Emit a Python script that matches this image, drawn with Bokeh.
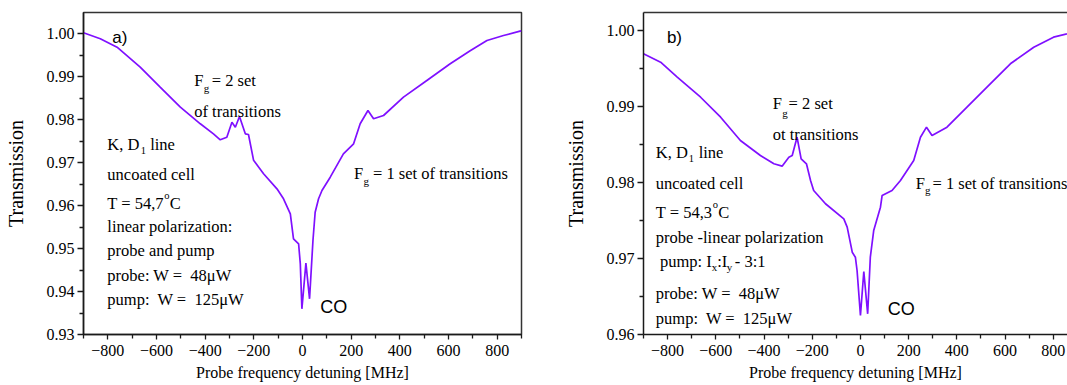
from bokeh.plotting import figure
from bokeh.layouts import row
from bokeh.models import Label, FixedTicker, PrintfTickFormatter, LinearAxis, Range1d
from bokeh.embed import file_html
from bokeh.resources import INLINE

# ---------------- data ----------------
left_f = [-900, -831, -762, -667, -585, -502, -420, -366, -338, -311, -290, -276, -259,
          -235, -222, -201, -160, -105, -78, -50, -37, -16, -9, -2.5, 14, 29, 43, 52, 66,
          80, 114, 168, 210, 237, 269, 292, 333, 415, 511, 607, 689, 758, 826, 894, 900]
left_T = [1.00016, 0.99877, 0.99681, 0.99216, 0.98751, 0.98286, 0.97900, 0.97667, 0.97528,
          0.97589, 0.97937, 0.97821, 0.98070, 0.97667, 0.97651, 0.97050, 0.96737, 0.96388,
          0.96156, 0.95807, 0.95226, 0.95109, 0.94643, 0.93597, 0.94659, 0.93830, 0.95186,
          0.95844, 0.96156, 0.96349, 0.96658, 0.97202, 0.97435, 0.97900, 0.98209, 0.98016,
          0.98093, 0.98519, 0.98907, 0.99295, 0.99600, 0.99837, 0.99953, 1.00054, 1.00060]

right_f = [-900, -829, -760, -663, -580, -498, -415, -359, -325, -297, -283, -263, -246,
           -224, -207, -194, -145, -69, -55, -34, -21, -14, 0, 14, 30, 41, 55, 83, 90, 131,
           166, 221, 249, 274, 297, 359, 442, 525, 622, 719, 801, 857, 900]
right_T = [0.99693, 0.99583, 0.99386, 0.99122, 0.98859, 0.98553, 0.98355, 0.98246, 0.98215,
           0.98333, 0.98355, 0.98596, 0.98312, 0.98246, 0.98026, 0.97895, 0.97720, 0.97522,
           0.97412, 0.97083, 0.97017, 0.96842, 0.96250, 0.96829, 0.96272, 0.97017, 0.97368,
           0.97675, 0.97829, 0.97895, 0.98026, 0.98289, 0.98596, 0.98728, 0.98618, 0.98728,
           0.98991, 0.99254, 0.99562, 0.99780, 0.99912, 0.99957, 1.00000]

x_ticks = [-800, -600, -400, -200, 0, 200, 400, 600, 800]
x_minor = [-900, -700, -500, -300, -100, 100, 300, 500, 700, 900]
left_y_ticks = [0.93, 0.94, 0.95, 0.96, 0.97, 0.98, 0.99, 1.00]
left_y_minor = [0.935, 0.945, 0.955, 0.965, 0.975, 0.985, 0.995]
right_y_ticks = [0.96, 0.97, 0.98, 0.99, 1.00]
right_y_minor = [0.965, 0.975, 0.985, 0.995]

x_label = "Probe frequency detuning [MHz]"
y_label = "Transmission"

SERIF = '"Liberation Serif"'
SANS = '"Liberation Sans"'
LINE = "#7f10ff"
AX = "#1a1a1a"
FS = "16.5px"


def make_fig(width, x_end, y0, y1, yticks, yminor, b_left, b_right, outline):
    p = figure(width=width, height=385, x_range=Range1d(-900, x_end),
               y_range=Range1d(y0, y1), output_backend="svg", toolbar_location=None,
               min_border_left=b_left, min_border_right=b_right,
               min_border_top=12, min_border_bottom=51)
    p.grid.visible = False
    p.background_fill_color = "white"
    p.border_fill_color = "white"

    xa = p.below[0]
    xa.ticker = FixedTicker(ticks=x_ticks, minor_ticks=x_minor)
    xa.axis_label = x_label
    xa.axis_label_text_font = SERIF
    xa.axis_label_text_font_size = "16px"
    xa.axis_label_text_font_style = "normal"
    xa.axis_label_standoff = 5
    xa.major_label_text_font = SERIF
    xa.major_label_text_font_size = "16px"
    xa.major_label_standoff = 5
    xa.major_tick_out = 5
    xa.major_tick_in = 0
    xa.minor_tick_out = 4
    xa.minor_tick_in = 0

    ya = p.left[0]
    ya.ticker = FixedTicker(ticks=yticks, minor_ticks=yminor)
    ya.formatter = PrintfTickFormatter(format="%.2f")
    ya.axis_label = y_label
    ya.axis_label_text_font = SERIF
    ya.axis_label_text_font_size = "20px"
    ya.axis_label_text_font_style = "normal"
    ya.axis_label_standoff = 17
    ya.major_label_text_font = SERIF
    ya.major_label_text_font_size = "16px"
    ya.major_label_standoff = 3
    ya.major_tick_out = 6
    ya.major_tick_in = 0
    ya.minor_tick_out = 4
    ya.minor_tick_in = 0

    for a in (xa, ya):
        a.axis_line_color = AX
        a.axis_line_width = 1.5
        a.major_tick_line_color = AX
        a.major_tick_line_width = 1.3
        a.minor_tick_line_color = AX
        a.minor_tick_line_width = 1.3
        a.major_label_text_color = "black"
        a.axis_label_text_color = "black"

    if outline:
        p.outline_line_color = "#333333"
        p.outline_line_width = 1.5
    else:
        p.outline_line_color = None
        top = LinearAxis(ticker=FixedTicker(ticks=[], minor_ticks=[]),
                         major_tick_line_color=None, minor_tick_line_color=None,
                         major_label_text_font_size="0px", major_label_standoff=0,
                         axis_line_color="#333333", axis_line_width=1.5)
        p.add_layout(top, "above")
    return p


def add_labels(p, items):
    for text, x, y, size, font in items:
        p.add_layout(Label(x=x, y=y, text=text, text_font=font, text_font_size=size,
                           text_baseline="alphabetic", text_align="left",
                           text_color="black"))


NB = "\u00a0"

# ---------------- left panel ----------------
pl = make_fig(560, 900, 0.93, 0.93 + 322 / 4300, left_y_ticks, left_y_minor, 83, 39, True)
pl.line(left_f, left_T, line_color=LINE, line_width=1.7)
add_labels(pl, [
    ("a)", -782, 0.99907, "17px", SANS),
    ("F", -445, 0.98907, FS, SERIF),
    ("g", -406, 0.98733, "11px", SERIF),
    ("= 2 set", -373, 0.98907, FS, SERIF),
    ("of transitions", -445, 0.98186, FS, SERIF),
    ("K, D", -802, 0.97419, FS, SERIF),
    ("1", -665, 0.97279, "10.5px", SERIF),
    ("line", -626, 0.97419, FS, SERIF),
    ("uncoated cell", -802, 0.96721, FS, SERIF),
    ("T = 54,7", -802, 0.96047, FS, SERIF),
    ("o", -568, 0.96233, "10.5px", SERIF),
    ("C", -546, 0.96047, FS, SERIF),
    ("linear polarization:", -802, 0.95512, FS, SERIF),
    ("probe and pump", -802, 0.94953, FS, SERIF),
    ("probe: W =" + NB + " 48μW", -802, 0.94372, FS, SERIF),
    ("pump:" + NB + " W =" + NB + " 125μW", -802, 0.93814, FS, SERIF),
    ("CO", 73, 0.93628, "18px", SANS),
    ("F", 212, 0.96744, FS, SERIF),
    ("g", 251, 0.96581, "11px", SERIF),
    ("= 1 set of transitions", 290, 0.96744, FS, SERIF),
])

# ---------------- right panel ----------------
pr = make_fig(507, 859, 0.96, 0.96 + 322 / 7600, right_y_ticks, right_y_minor, 83, 0, False)
pr.line(right_f, right_T, line_color=LINE, line_width=1.7)
add_labels(pr, [
    ("b)", -803, 0.99908, "17px", SANS),
    ("F", -364, 0.99039, FS, SERIF),
    ("g", -324, 0.98908, "11px", SERIF),
    ("= 2 set", -298, 0.99039, FS, SERIF),
    ("ot transitions", -364, 0.98632, FS, SERIF),
    ("K, D", -849, 0.98395, FS, SERIF),
    ("1", -712, 0.98316, "10.5px", SERIF),
    ("line", -671, 0.98395, FS, SERIF),
    ("uncoated cell", -849, 0.97987, FS, SERIF),
    ("T = 54,3", -849, 0.97605, FS, SERIF),
    ("o", -613, 0.97711, "10.5px", SERIF),
    ("C", -590, 0.97605, FS, SERIF),
    ("probe -linear polarization", -849, 0.97280, FS, SERIF),
    ("pump: I", -832, 0.96961, FS, SERIF),
    ("x", -617, 0.96882, "11px", SERIF),
    (":I", -594, 0.96961, FS, SERIF),
    ("y", -555, 0.96882, "11px", SERIF),
    ("- 3:1", -521, 0.96961, FS, SERIF),
    ("probe: W =" + NB + " 48μW", -849, 0.96536, FS, SERIF),
    ("pump:" + NB + " W =" + NB + " 125μW", -849, 0.96207, FS, SERIF),
    ("CO", 113, 0.96342, "18px", SANS),
    ("F", 229, 0.97987, FS, SERIF),
    ("g", 268, 0.97895, "11px", SERIF),
    ("= 1 set of transitions", 299, 0.97987, FS, SERIF),
])

layout = row(pl, pr)
open("out.html", "w").write(file_html(layout, INLINE))
